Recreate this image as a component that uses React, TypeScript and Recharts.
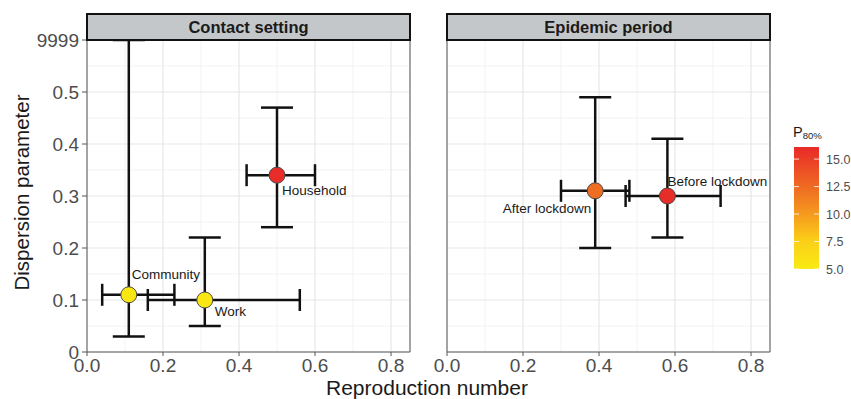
import React from 'react';
import { ScatterChart, Scatter, XAxis, YAxis, CartesianGrid, ErrorBar, ReferenceArea } from 'recharts';

// ---- Data: Contact setting panel ----
const contactNames = ['Community', 'Work', 'Household'];
const contactR = [0.11, 0.31, 0.5];
const contactRLow = [0.04, 0.16, 0.42];
const contactRHigh = [0.23, 0.56, 0.6];
const contactK = [0.11, 0.1, 0.34];
const contactKLow = [0.03, 0.05, 0.24];
const contactKHigh = [0.6, 0.22, 0.47]; // 0.6 = the "9999" position on the axis
const contactP80 = [5.3, 5.3, 16.0];

// ---- Data: Epidemic period panel ----
const periodNames = ['After lockdown', 'Before lockdown'];
const periodR = [0.39, 0.58];
const periodRLow = [0.3, 0.47];
const periodRHigh = [0.48, 0.72];
const periodK = [0.31, 0.3];
const periodKLow = [0.2, 0.22];
const periodKHigh = [0.49, 0.41];
const periodP80 = [12.4, 16.0];

// ---- Axis ticks ----
const xTicks = [0, 0.2, 0.4, 0.6, 0.8];
const xMinorTicks = [0.1, 0.3, 0.5, 0.7];
const yTicks = [0, 0.1, 0.2, 0.3, 0.4, 0.5, 0.6];
const yTickLabels = ['0', '0.1', '0.2', '0.3', '0.4', '0.5', '9999'];
const yMinorTicks = [0.05, 0.15, 0.25, 0.35, 0.45, 0.55];
const legendTicks = [5, 7.5, 10, 12.5, 15];
const legendDomain = [5, 16.1];

const X_DOMAIN = [0, 0.85];
const Y_DOMAIN = [0, 0.6];
const FONT = '"Liberation Sans", Arial, Helvetica, sans-serif';

// label placement (style)
const labelStyle: Record<string, { dx: number; dy: number; anchor: string }> = {
  Community: { dx: 3, dy: -16, anchor: 'start' },
  Work: { dx: 10, dy: 16, anchor: 'start' },
  Household: { dx: 5, dy: 20, anchor: 'start' },
  'After lockdown': { dx: -4, dy: 22, anchor: 'end' },
  'Before lockdown': { dx: 0, dy: -10, anchor: 'start' },
};

// colour scale yellow -> red
const colorStops: [number, [number, number, number]][] = [
  [5, [249, 234, 20]],
  [7.5, [251, 208, 23]],
  [10, [245, 154, 30]],
  [12.5, [239, 106, 35]],
  [16.1, [232, 42, 39]],
];
function colorFor(v: number): string {
  if (v <= colorStops[0][0]) return `rgb(${colorStops[0][1].join(',')})`;
  for (let i = 1; i < colorStops.length; i++) {
    const [v1, c1] = colorStops[i];
    const [v0, c0] = colorStops[i - 1];
    if (v <= v1) {
      const t = (v - v0) / (v1 - v0);
      const c = c0.map((a, j) => Math.round(a + (c1[j] - a) * t));
      return `rgb(${c.join(',')})`;
    }
  }
  return `rgb(${colorStops[colorStops.length - 1][1].join(',')})`;
}

function buildRows(names: string[], r: number[], rl: number[], rh: number[], k: number[], kl: number[], kh: number[], p: number[]) {
  return names.map((name, i) => ({
    name,
    x: r[i],
    y: k[i],
    xErr: [r[i] - rl[i], rh[i] - r[i]],
    yErr: [k[i] - kl[i], kh[i] - k[i]],
    fill: colorFor(p[i]),
  }));
}

const contactRows = buildRows(contactNames, contactR, contactRLow, contactRHigh, contactK, contactKLow, contactKHigh, contactP80);
const periodRows = buildRows(periodNames, periodR, periodRLow, periodRHigh, periodK, periodKLow, periodKHigh, periodP80);

const PointShape = (props: any) => {
  const { cx, cy, payload } = props;
  const ls = labelStyle[payload.name] || { dx: 5, dy: 15, anchor: 'start' };
  return (
    <g>
      <circle cx={cx} cy={cy} r={8} fill={payload.fill} stroke="#4a4a4a" strokeWidth={1} />
      <text x={cx + ls.dx} y={cy + ls.dy} textAnchor={ls.anchor as any} fontSize={13.5} fill="#1a1a1a" fontFamily={FONT}>
        {payload.name}
      </text>
    </g>
  );
};

function Panel({ rows, showY, width, marginLeft, yWidth }: any) {
  return (
    <ScatterChart
      width={width}
      height={399}
      margin={{ top: 40, right: 20, bottom: 17, left: marginLeft }}
      style={{ fontFamily: FONT }}
    >
      <XAxis xAxisId="minor" type="number" dataKey="x" domain={X_DOMAIN} ticks={xMinorTicks} hide allowDataOverflow />
      <YAxis yAxisId="minor" type="number" dataKey="y" domain={Y_DOMAIN} ticks={yMinorTicks} hide allowDataOverflow />
      <CartesianGrid xAxisId="minor" yAxisId="minor" stroke="#eef0f2" strokeWidth={0.8} />
      <CartesianGrid stroke="#e4e7ea" strokeWidth={1.2} />
      <XAxis
        type="number"
        dataKey="x"
        domain={X_DOMAIN}
        ticks={xTicks}
        allowDataOverflow
        tickFormatter={(v: number) => v.toFixed(1)}
        tick={{ fontSize: 19, fill: '#4d4d4d', fontFamily: FONT }}
        tickLine={{ stroke: '#555' }}
        tickSize={4}
        tickMargin={3}
        axisLine={false}
        height={30}
        interval={0}
      />
      <YAxis
        type="number"
        dataKey="y"
        domain={Y_DOMAIN}
        ticks={yTicks}
        allowDataOverflow
        hide={!showY}
        tickFormatter={(v: number) => yTickLabels[yTicks.findIndex((t) => Math.abs(t - v) < 1e-9)] ?? ''}
        tick={{ fontSize: 19, fill: '#4d4d4d', fontFamily: FONT }}
        tickLine={{ stroke: '#555' }}
        tickSize={5}
        tickMargin={3}
        axisLine={false}
        width={yWidth}
        interval={0}
      />
      <ReferenceArea x1={0} x2={0.85} y1={0} y2={0.6} fill="none" stroke="#5a5a5a" strokeWidth={1} ifOverflow="visible" />
      <Scatter data={rows} isAnimationActive={false} shape={PointShape}>
        <ErrorBar dataKey="xErr" direction="x" width={11} stroke="#111" strokeWidth={2.5} />
        <ErrorBar dataKey="yErr" direction="y" width={16} stroke="#111" strokeWidth={2.5} />
      </Scatter>
    </ScatterChart>
  );
}

const stripStyle = (left: number, width: number): React.CSSProperties => ({
  position: 'absolute',
  left,
  top: 13,
  width,
  height: 28,
  boxSizing: 'border-box',
  background: '#c4c7ca',
  border: '2px solid #111',
  fontFamily: FONT,
  fontWeight: 'bold',
  fontSize: 16.5,
  color: '#1a1a1a',
  display: 'flex',
  alignItems: 'center',
  justifyContent: 'center',
  zIndex: 2,
});

export default function App() {
  const barX = 794;
  const barY = 147;
  const barW = 25;
  const barH = 122;
  const valToY = (v: number) => barY + barH - ((v - legendDomain[0]) / (legendDomain[1] - legendDomain[0])) * barH;
  return (
    <div style={{ position: 'absolute', left: 0, top: 0, width: 851, height: 399, background: '#fff', overflow: 'hidden' }}>
      <div style={{ position: 'absolute', left: 0, top: 0 }}>
        <Panel rows={contactRows} showY width={430} marginLeft={0} yWidth={87} />
      </div>
      <div style={{ position: 'absolute', left: 430, top: 0 }}>
        <Panel rows={periodRows} showY={false} width={360} marginLeft={17} yWidth={0} />
      </div>
      <div style={stripStyle(86, 325)}>Contact setting</div>
      <div style={stripStyle(446, 325)}>Epidemic period</div>
      <svg width={851} height={399} style={{ position: 'absolute', left: 0, top: 0, pointerEvents: 'none' }}>
        <defs>
          <linearGradient id="p80grad" x1="0" y1="1" x2="0" y2="0">
            {colorStops.map(([v, c]) => (
              <stop
                key={v}
                offset={`${((v - legendDomain[0]) / (legendDomain[1] - legendDomain[0])) * 100}%`}
                stopColor={`rgb(${c.join(',')})`}
              />
            ))}
          </linearGradient>
        </defs>
        <text x={427} y={394.5} textAnchor="middle" fontSize={21} fill="#1a1a1a" fontFamily={FONT}>
          Reproduction number
        </text>
        <text
          x={0}
          y={0}
          transform="translate(29,192.5) rotate(-90)"
          textAnchor="middle"
          fontSize={20.5}
          fill="#1a1a1a"
          fontFamily={FONT}
        >
          Dispersion parameter
        </text>
        <text x={793} y={137} fontSize={14.5} fill="#1a1a1a" fontFamily={FONT}>
          P<tspan fontSize={9.5} dy={2}>80%</tspan>
        </text>
        <rect x={barX} y={barY} width={barW} height={barH} fill="url(#p80grad)" />
        {legendTicks.map((t) => (
          <g key={t}>
            <line x1={barX} x2={barX + 5} y1={valToY(t)} y2={valToY(t)} stroke="#fff" strokeWidth={1} opacity={0.8} />
            <line x1={barX + barW - 5} x2={barX + barW} y1={valToY(t)} y2={valToY(t)} stroke="#fff" strokeWidth={1} opacity={0.8} />
            <text x={826} y={valToY(t) + 4.5} fontSize={12.5} fill="#4d4d4d" fontFamily={FONT}>
              {t.toFixed(1)}
            </text>
          </g>
        ))}
      </svg>
    </div>
  );
}
